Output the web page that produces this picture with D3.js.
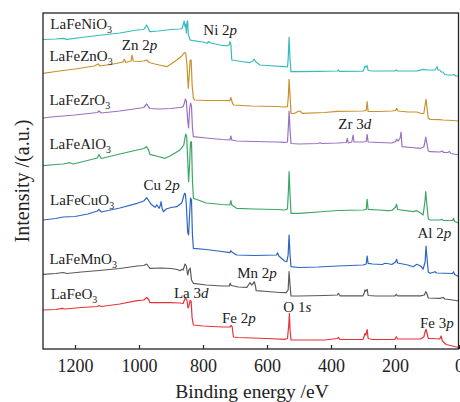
<!DOCTYPE html>
<html>
<head>
<meta charset="utf-8">
<script src="https://cdn.jsdelivr.net/npm/d3@7"></script>
<style>
  html, body { margin: 0; padding: 0; background: #fff; }
  svg { display: block; }
  text { font-family: "Liberation Serif", "Times New Roman", serif; fill: #222; }
</style>
</head>
<body>
<svg id="chart" width="460" height="402"></svg>
<script>
// XPS survey spectra, binding energy (eV) vs. stacked intensity (a.u.)
const xTicks = [1200, 1000, 800, 600, 400, 200, 0];

const sampleNames = ["LaFeNiO3", "LaFeZnO3", "LaFeZrO3", "LaFeAlO3", "LaFeCuO3", "LaFeMnO3", "LaFeO3"];
const sampleColors = ["#36bcbc", "#c8922c", "#9a70c0", "#3ba665", "#2d66c2", "#5a5a5a", "#e5333b"];

const laFeNiO3 = [[1300,309.5],[1260,310],[1237,310.7],[1225,309.7],[1180,311.5],[1130,313.5],[1060,316],[1006,319],[985,319.5],[976,324],[970,320],[966,317.3],[940,318],[900,319.5],[872,320],[866,320.5],[862,324],[859,328],[856,322],[854,325],[852,316],[850,327],[848,328],[846,314],[843,312],[840,309],[832,308.3],[800,307],[788,305.7],[782,307.5],[776,306],[740,303.5],[726,303.3],[718,304],[716,307.3],[713,305],[710,289],[680,287.5],[655,286.3],[644,288],[640,289.7],[636,287.5],[622,284],[600,283.5],[544,282.3],[536,282],[534,289],[531,311.7],[528,289],[525,277.3],[500,277.3],[440,277.7],[380,278],[377,279],[374,277.7],[300,277.8],[297,280],[294,283],[291,282],[287,283.3],[284,278.5],[270,278],[200,278],[196,279],[192,278],[130,278.2],[112,279.7],[100,279],[75,279],[70,281.5],[68,282.3],[66,279],[60,279],[56,277],[50,277],[45,274.5],[35,274],[20,274],[15,274.5],[10,273],[0,273]];

const laFeZnO3 = [[1300,275.7],[1260,277.5],[1237,278.5],[1200,280],[1140,283],[1128,285],[1122,283],[1080,285],[1050,287],[1046,289.7],[1041,286.5],[1025,288],[1022,294],[1018,288],[1000,287.5],[985,288],[976,289],[968,286.5],[950,285],[930,283.5],[913,282.3],[900,285],[882,289],[866,293],[862,295],[858,296.3],[854,296],[850,284],[846,260.7],[843,274],[840,289],[837,289],[834,264],[830,250.7],[826,249],[790,248.5],[740,248.5],[716,248.3],[713,251.7],[710,248],[705,244],[650,243],[570,242.5],[545,242],[536,242.3],[533,254],[531,269.7],[528,254],[525,235.7],[515,235.5],[500,238],[495,237.5],[490,235.7],[420,236.5],[380,237.7],[300,238],[290,238.5],[287,247.3],[284,237.7],[250,237.5],[210,238],[198,238.5],[195,240.7],[190,238],[160,237],[132,237],[120,235.7],[110,235.5],[106,244],[103,249.7],[100,241],[96,230.7],[90,229.5],[60,229.3],[50,229],[20,228.5],[0,228]];

const laFeZrO3 = [[1300,231],[1260,232.5],[1237,233],[1200,234],[1130,236.5],[1125,238],[1118,236],[1060,238],[1006,240.5],[985,241.5],[976,245],[970,242],[966,240.5],[940,240],[900,240.5],[872,241.5],[866,241.7],[862,242.5],[858,246],[855,250],[852,248],[848,229],[845,221],[842,239],[839,246],[836,243],[833,221],[830,212.3],[790,211],[740,209.5],[716,209],[713,213],[710,209],[695,208],[640,207.5],[570,207],[545,206.7],[536,207],[533,224],[531,238],[528,219],[525,205.5],[500,205],[440,205.5],[434,206.3],[428,205.5],[380,206],[352,206.5],[349,210.7],[346,206],[335,207],[331,214],[328,207],[300,207],[290,207.5],[287,214.7],[284,207],[250,206.5],[210,206],[198,207.5],[195,209.7],[190,208],[184,211],[181,217],[178,202.3],[150,201.5],[120,200.7],[110,202],[106,208],[104,212],[100,205],[96,198],[90,197.3],[60,197],[52,198],[48,196.5],[35,196.5],[30,197.5],[25,195.5],[0,194]];

const laFeAlO3 = [[1300,183.3],[1260,184.5],[1237,185],[1216,186.3],[1205,185],[1180,187],[1130,191],[1125,194.5],[1118,190.5],[1060,195],[1006,199],[985,200.5],[976,202.3],[970,199],[966,194.7],[940,192.5],[919,190.7],[903,193],[882,197],[872,199],[864,202.3],[860,204],[857,210],[854,215],[851,212],[848,191],[845,167.3],[842,184],[839,207],[836,207.3],[833,169],[830,150.7],[790,146],[740,144.5],[716,144],[713,148.3],[710,144],[695,140.7],[640,140],[570,139.5],[545,139],[536,140],[533,159],[531,177.3],[528,154],[525,135.7],[500,135.7],[440,137],[380,138.5],[300,139],[290,139.5],[287,149.7],[284,139.7],[250,139],[224,138.3],[210,138.5],[198,142],[195,144.7],[192,139.5],[143,137.3],[132,138.3],[120,136],[112,134],[106,149],[104,157.3],[100,143],[96,130],[90,129],[60,129],[54,129.7],[50,128.7],[20,128.5],[17,130.7],[14,127.5],[0,125.7]];

const laFeCuO3 = [[1300,129],[1260,130.5],[1237,132],[1200,132.5],[1160,135],[1130,138],[1125,139.7],[1118,137],[1060,141],[1006,145.7],[985,148],[976,151.3],[970,148.5],[962,144.7],[950,141.7],[944,144],[937,140.7],[933,144],[931,147.3],[928,141],[924,137.3],[915,140],[900,141.5],[882,142.3],[866,146.3],[862,151],[858,155.7],[855,155],[852,144],[848,117],[845,114],[842,134],[839,151],[836,149],[833,114],[830,100.7],[790,99.5],[740,97.5],[716,96.3],[713,98.3],[710,97],[695,94],[640,93.5],[570,94],[567,96.3],[563,93],[545,88],[538,87.3],[534,94],[531,114],[528,94],[525,82.3],[500,81.5],[440,82],[380,83],[300,84],[290,85],[287,93],[284,85.7],[270,85],[240,84.5],[231,85.7],[224,85.5],[210,84.5],[198,87],[195,89.7],[192,86],[160,84],[143,82.3],[132,84.7],[120,83],[112,80],[106,87],[103,103],[100,91],[96,77],[90,75.7],[75,77.3],[70,76],[20,75.5],[17,77.2],[14,74.5],[0,72.3]];

const laFeMnO3 = [[1300,74.7],[1260,75.5],[1237,76.5],[1225,75.5],[1180,77],[1125,78.5],[1060,80.5],[1006,83],[985,83.5],[976,85],[970,82.5],[966,80.7],[930,81],[900,80.5],[880,79.5],[872,78.3],[866,79.7],[862,79],[856,85],[852,83],[848,74],[844,79],[840,81],[836,69],[830,65.7],[790,64],[740,63],[718,63],[715,65.7],[712,63.5],[690,62],[663,61.7],[656,65],[653,66.3],[648,64],[642,66],[640,67.3],[636,63],[634,58.3],[600,57.5],[560,56.5],[540,56.3],[534,59],[531,77.3],[528,64],[525,53],[500,53],[420,53.5],[380,54],[377,55.7],[372,53.2],[300,53.2],[296,56],[294,59],[291,58],[287,59.7],[284,53.5],[260,53],[200,53.2],[196,54.7],[192,53.2],[120,53.2],[108,54],[104,57.3],[101,56],[96,51],[60,50.7],[49,51.5],[44,50],[20,49],[0,48]];

const laFeO3 = [[1300,39],[1260,39.5],[1240,40.7],[1232,40],[1180,41.5],[1130,42.5],[1125,43.5],[1118,42.5],[1060,45],[1006,48.3],[985,49],[976,51.5],[970,49.5],[966,46.3],[940,46.5],[903,46.3],[872,46],[862,45.5],[857,50],[854,50.5],[850,49],[847,41],[844,43],[840,48.5],[837,47.5],[834,31],[830,24],[800,23],[740,22],[716,22],[712,23.5],[709,22.5],[705,12],[690,11.5],[600,10.5],[545,9.7],[536,10.5],[532,24],[530,35.7],[528,19],[525,9],[500,9],[420,9],[380,10.5],[377,11.7],[372,9.5],[300,9.5],[296,13],[294,15.5],[291,14],[287,19.5],[284,10.5],[270,9.5],[200,9.7],[196,12.3],[192,10],[120,10],[110,12],[106,17],[103,19.7],[100,16],[96,10.7],[80,10.5],[60,10],[56,13],[52,8],[40,4.5],[20,3],[0,1.5]];

const spectra = [laFeNiO3, laFeZnO3, laFeZrO3, laFeAlO3, laFeCuO3, laFeMnO3, laFeO3];

// sample label anchors (energy, intensity)
const sampleLabelE = [1277, 1280, 1280, 1280, 1278, 1280, 1276];
const sampleLabelI = [320.5, 288, 244.5, 200.5, 144.5, 85.5, 50.5];

// core-level annotations: element/level text, orbital letter, anchor energy, anchor intensity
const peakText   = ["Ni 2", "Zn 2", "Zr 3", "Cu 2", "Al 2", "Mn 2", "La 3", "Fe 2", "O 1", "Fe 3"];
const peakOrbit  = ["p", "p", "d", "p", "p", "p", "d", "p", "s", "p"];
const peakLabelE = [799, 1054, 377, 986, 130, 693, 891, 741, 549, 122];
const peakLabelI = [314, 299, 220.5, 159, 111, 71, 51, 26, 37, 21];

const svg = d3.select("#chart");
const margin = { left: 43, top: 13, right: 1, bottom: 53 };
const W = 460, H = 402;

const x = d3.scaleLinear().domain([1300, 0]).range([margin.left, W - margin.right]);
const y = d3.scaleLinear().domain([0, 336]).range([H - margin.bottom, margin.top]);

const line = d3.line().x(d => x(d[0])).y(d => y(d[1]));

const plot = svg.append("g");
plot.append("defs").append("clipPath").attr("id", "clip")
  .append("rect").attr("x", margin.left).attr("y", margin.top)
  .attr("width", W - margin.left - margin.right).attr("height", H - margin.top - margin.bottom);

plot.append("g").attr("clip-path", "url(#clip)")
  .selectAll("path").data(spectra).join("path")
  .attr("d", line)
  .attr("fill", "none")
  .attr("stroke", (d, i) => sampleColors[i])
  .attr("stroke-width", 1.2)
  .attr("stroke-linejoin", "round");

// bottom axis with inward ticks
const xAxis = d3.axisBottom(x).tickValues(xTicks).tickFormat(d3.format("d"))
  .tickSizeInner(-4).tickSizeOuter(0).tickPadding(10);
const gx = svg.append("g").attr("transform", `translate(0,${H - margin.bottom})`).call(xAxis);
gx.select(".domain").remove();
gx.selectAll(".tick line").attr("stroke", "#222").attr("stroke-width", 1.2);
gx.selectAll(".tick text").style("font-family", "Liberation Serif").style("font-size", "18px").attr("fill", "#222");

// frame
svg.append("rect")
  .attr("x", margin.left).attr("y", margin.top)
  .attr("width", W - margin.left - margin.right - 0.5).attr("height", H - margin.top - margin.bottom)
  .attr("fill", "none").attr("stroke", "#222").attr("stroke-width", 1.3);

// axis titles
svg.append("text")
  .attr("x", (margin.left + W) / 2 + 0.5).attr("y", 398)
  .attr("text-anchor", "middle").style("font-size", "19.5px")
  .text("Binding energy /eV");

svg.append("text")
  .attr("transform", `translate(29,181) rotate(-90)`)
  .attr("text-anchor", "middle").style("font-size", "20px")
  .text("Intensity /(a.u.)");

// sample labels with subscripted oxygen count
sampleNames.forEach((name, i) => {
  const t = svg.append("text")
    .attr("x", x(sampleLabelE[i])).attr("y", y(sampleLabelI[i]))
    .style("font-size", "15px");
  t.append("tspan").text(name.slice(0, -1));
  t.append("tspan").attr("dy", 4).style("font-size", "10px").text(name.slice(-1));
});

// core-level labels, orbital letter in italics
peakText.forEach((txt, i) => {
  const t = svg.append("text")
    .attr("x", x(peakLabelE[i])).attr("y", y(peakLabelI[i]))
    .style("font-size", "15px");
  t.append("tspan").text(txt);
  t.append("tspan").style("font-style", "italic").text(peakOrbit[i]);
});
</script>
</body>
</html>
